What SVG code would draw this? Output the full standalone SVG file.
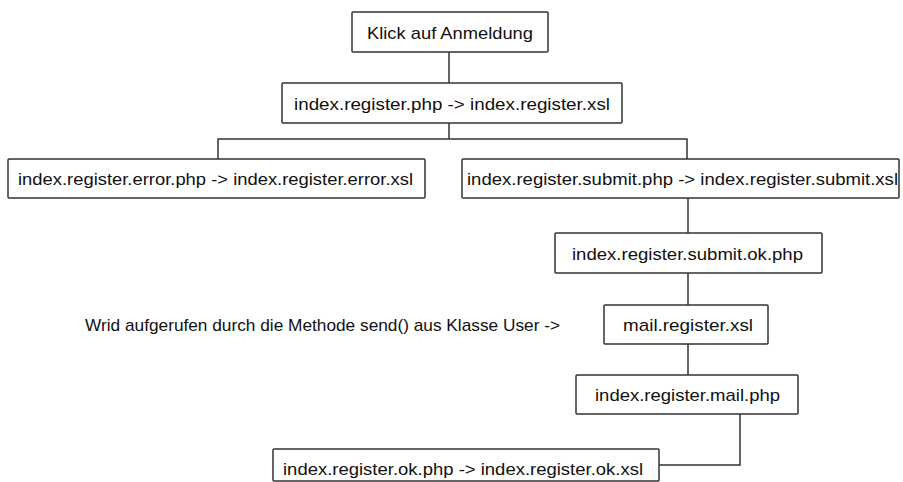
<svg xmlns="http://www.w3.org/2000/svg" width="903" height="482" viewBox="0 0 903 482">
<style>
.box{fill:#fff;stroke:#333;stroke-width:1.5}
.ln{fill:none;stroke:#333;stroke-width:1.5}
text{font-family:"Liberation Sans",Arial,sans-serif;font-size:17px;fill:#111}
</style>
<rect width="903" height="482" fill="#fff"/>
<g id="connectors">
<path class="ln" d="M449,52V83"/>
<path class="ln" d="M449,123V139H218V159M449,139H687V159"/>
<path class="ln" d="M688,198V233"/>
<path class="ln" d="M688,273V305"/>
<path class="ln" d="M688,344V375"/>
<path class="ln" d="M740,414V465H659"/>
</g>
<g id="n1"><rect class="box" x="352" y="12" width="196" height="40" rx="1"/><text x="367" y="38.5" textLength="166" lengthAdjust="spacingAndGlyphs">Klick auf Anmeldung</text></g>
<g id="n2"><rect class="box" x="282" y="83" width="340" height="40" rx="1"/><text x="294" y="109.5" textLength="316" lengthAdjust="spacingAndGlyphs">index.register.php -&gt; index.register.xsl</text></g>
<g id="n3"><rect class="box" x="8" y="159" width="417" height="39" rx="1"/><text x="18" y="185" textLength="395" lengthAdjust="spacingAndGlyphs">index.register.error.php -&gt; index.register.error.xsl</text></g>
<g id="n4"><rect class="box" x="462" y="159" width="437" height="39" rx="1"/><text x="467" y="185" textLength="431" lengthAdjust="spacingAndGlyphs">index.register.submit.php -&gt; index.register.submit.xsl</text></g>
<g id="n5"><rect class="box" x="555" y="233" width="267" height="40" rx="1"/><text x="572" y="259.5" textLength="231" lengthAdjust="spacingAndGlyphs">index.register.submit.ok.php</text></g>
<g id="n6"><rect class="box" x="604" y="305" width="164" height="39" rx="1"/><text x="623" y="331" textLength="130" lengthAdjust="spacingAndGlyphs">mail.register.xsl</text></g>
<g id="label"><text x="85" y="331" textLength="475" lengthAdjust="spacingAndGlyphs">Wrid aufgerufen durch die Methode send() aus Klasse User -&gt;</text></g>
<g id="n7"><rect class="box" x="576" y="375" width="222" height="39" rx="1"/><text x="595" y="401" textLength="185" lengthAdjust="spacingAndGlyphs">index.register.mail.php</text></g>
<g id="n8"><rect class="box" x="273" y="449" width="386" height="32" rx="1"/><text x="283" y="475" textLength="360" lengthAdjust="spacingAndGlyphs">index.register.ok.php -&gt; index.register.ok.xsl</text></g>
</svg>
